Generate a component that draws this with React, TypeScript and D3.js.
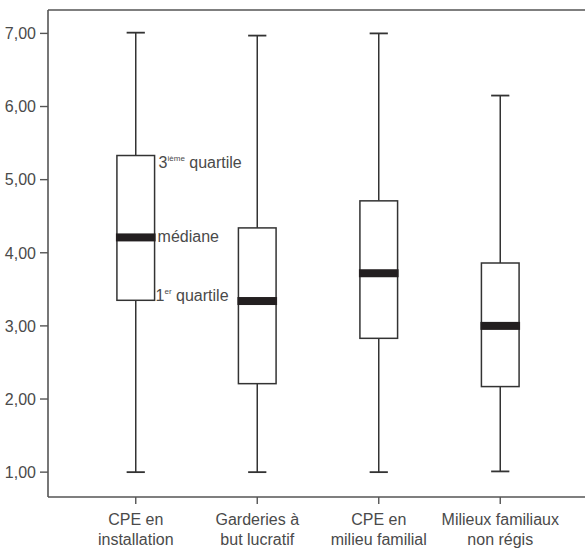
import { useEffect, useRef } from 'react';
import * as d3 from 'd3';

// catégories (deux lignes chacune)
const categories = ['CPE en installation', 'Garderies à but lucratif', 'CPE en milieu familial', 'Milieux familiaux non régis'];
const categoryLines = [
  ['CPE en', 'installation'],
  ['Garderies à', 'but lucratif'],
  ['CPE en', 'milieu familial'],
  ['Milieux familiaux', 'non régis'],
];

// statistiques des boîtes
const mins = [1.0, 1.0, 1.0, 1.01];
const q1s = [3.35, 2.21, 2.83, 2.17];
const medians = [4.21, 3.34, 3.72, 3.0];
const q3s = [5.33, 4.34, 4.71, 3.86];
const maxs = [7.01, 6.97, 7.0, 6.15];

const yTicks = [1, 2, 3, 4, 5, 6, 7];
const yDomain = [0.66, 7.32];

export default function App() {
  const ref = useRef<SVGSVGElement>(null);
  const width = 585;
  const height = 550;

  useEffect(() => {
    const svg = d3.select(ref.current);
    svg.selectAll('*').remove();

    const margin = { top: 10, left: 48, bottom: 497 };
    const ink = '#333';
    const textColor = '#4a4a4a';
    const font = '"Liberation Sans", Arial, sans-serif';

    const y = d3.scaleLinear().domain(yDomain).range([margin.bottom, margin.top]);
    const x = d3.scaleBand().domain(categories).range([75, 561]);
    const boxW = x.bandwidth() * 0.31;
    const capW = x.bandwidth() * 0.15;
    const cx = (i: number) => (x(categories[i]) as number) + x.bandwidth() / 2;

    const fr = d3.formatLocale({ decimal: ',', thousands: ' ', grouping: [3], currency: ['', ' €'] }).format('.2f');

    // cadre
    const frame = svg.append('g').attr('stroke', '#555').attr('stroke-width', 1.6).attr('fill', 'none');
    frame.append('line').attr('x1', margin.left).attr('x2', width).attr('y1', margin.top).attr('y2', margin.top);
    frame.append('line').attr('x1', margin.left).attr('x2', margin.left).attr('y1', margin.top).attr('y2', margin.bottom);
    frame.append('line').attr('x1', margin.left).attr('x2', width).attr('y1', margin.bottom).attr('y2', margin.bottom);

    // axe Y
    const yAxis = svg.append('g');
    yTicks.forEach(t => {
      yAxis.append('line')
        .attr('x1', margin.left - 8).attr('x2', margin.left)
        .attr('y1', y(t)).attr('y2', y(t))
        .attr('stroke', '#555').attr('stroke-width', 1.4);
      yAxis.append('text')
        .attr('x', margin.left - 12).attr('y', y(t)).attr('dy', '0.36em')
        .attr('text-anchor', 'end')
        .attr('font-family', font).attr('font-size', 16).attr('fill', textColor)
        .text(fr(t));
    });

    // axe X
    const xAxis = svg.append('g');
    categories.forEach((c, i) => {
      xAxis.append('line')
        .attr('x1', cx(i)).attr('x2', cx(i))
        .attr('y1', margin.bottom).attr('y2', margin.bottom + 7)
        .attr('stroke', '#555').attr('stroke-width', 1.4);
      categoryLines[i].forEach((line, j) => {
        xAxis.append('text')
          .attr('x', cx(i)).attr('y', 525 + j * 20)
          .attr('text-anchor', 'middle')
          .attr('font-family', font).attr('font-size', 16).attr('fill', textColor)
          .text(line);
      });
    });

    // boîtes
    const boxes = svg.append('g');
    categories.forEach((c, i) => {
      const g = boxes.append('g');
      g.append('line')
        .attr('x1', cx(i)).attr('x2', cx(i))
        .attr('y1', y(maxs[i])).attr('y2', y(q3s[i]))
        .attr('stroke', ink).attr('stroke-width', 1.5);
      g.append('line')
        .attr('x1', cx(i)).attr('x2', cx(i))
        .attr('y1', y(q1s[i])).attr('y2', y(mins[i]))
        .attr('stroke', ink).attr('stroke-width', 1.5);
      [maxs[i], mins[i]].forEach(v => {
        g.append('line')
          .attr('x1', cx(i) - capW / 2).attr('x2', cx(i) + capW / 2)
          .attr('y1', y(v)).attr('y2', y(v))
          .attr('stroke', ink).attr('stroke-width', 1.8);
      });
      g.append('rect')
        .attr('x', cx(i) - boxW / 2).attr('width', boxW)
        .attr('y', y(q3s[i])).attr('height', y(q1s[i]) - y(q3s[i]))
        .attr('fill', 'white').attr('stroke', ink).attr('stroke-width', 1.5);
      g.append('rect')
        .attr('x', cx(i) - boxW / 2 - 1).attr('width', boxW + 2)
        .attr('y', y(medians[i]) - 4).attr('height', 8)
        .attr('fill', '#231f20');
    });

    // annotations sur la première boîte
    const ax = cx(0) + boxW / 2;
    const ann = svg.append('g')
      .attr('font-family', font).attr('font-size', 16).attr('fill', textColor);
    const t3 = ann.append('text').attr('x', ax + 4).attr('y', y(q3s[0]) + 12);
    t3.append('tspan').text('3');
    t3.append('tspan').attr('font-size', 8).attr('dy', -7).text('ième');
    t3.append('tspan').attr('dy', 7).text(' quartile');
    ann.append('text').attr('x', ax + 3).attr('y', y(medians[0]) + 5).text('médiane');
    const t1 = ann.append('text').attr('x', ax + 1).attr('y', y(q1s[0]) + 1);
    t1.append('tspan').text('1');
    t1.append('tspan').attr('font-size', 8).attr('dy', -7).text('er');
    t1.append('tspan').attr('dy', 7).text(' quartile');
  }, []);

  return (
    <svg
      ref={ref}
      width={width}
      height={height}
      style={{ position: 'absolute', left: 0, top: 0, display: 'block', background: 'white' }}
    />
  );
}
